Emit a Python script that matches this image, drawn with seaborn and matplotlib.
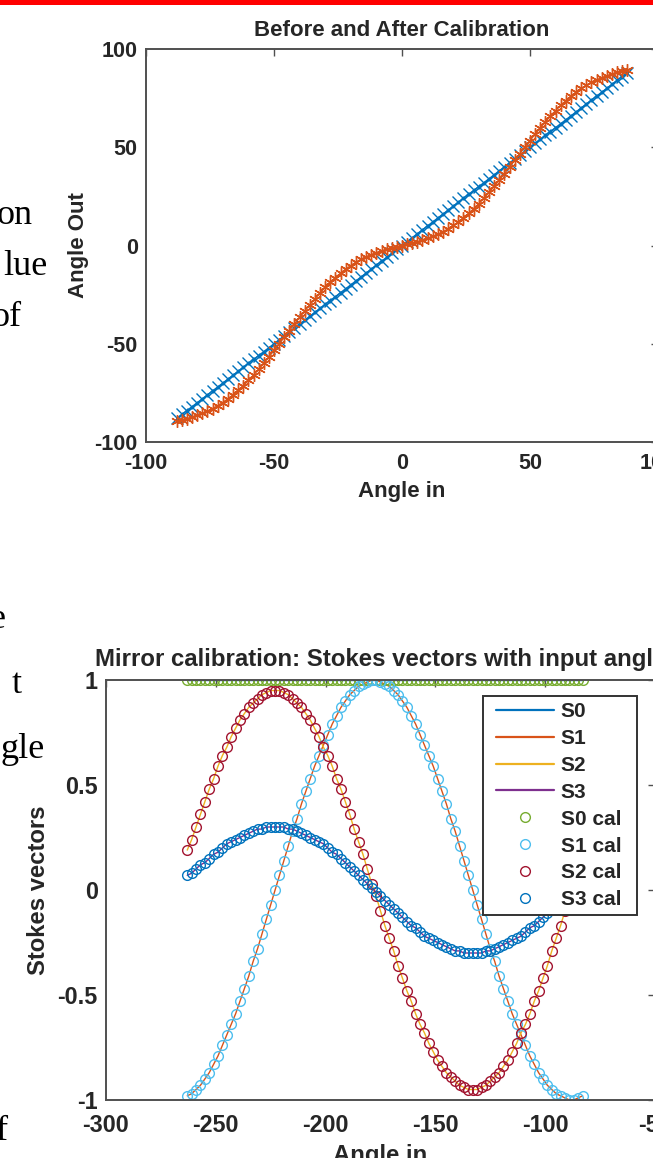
import matplotlib
matplotlib.use("Agg")
import matplotlib.pyplot as plt
import seaborn as sns
from matplotlib.patches import Rectangle

# ---- data ----
# top panel: angle in vs angle out, step 2 deg
angle_in_top = [-88, -86, -84, -82, -80, -78, -76, -74, -72, -70, -68, -66, -64, -62, -60,
                -58, -56, -54, -52, -50, -48, -46, -44, -42, -40, -38, -36, -34, -32, -30,
                -28, -26, -24, -22, -20, -18, -16, -14, -12, -10, -8, -6, -4, -2, 0,
                2, 4, 6, 8, 10, 12, 14, 16, 18, 20, 22, 24, 26, 28, 30,
                32, 34, 36, 38, 40, 42, 44, 46, 48, 50, 52, 54, 56, 58, 60,
                62, 64, 66, 68, 70, 72, 74, 76, 78, 80, 82, 84, 86, 88]
angle_out_after = [-88, -86, -84, -82, -80, -78, -76, -74, -72, -70, -68, -66, -64, -62, -60,
                   -58, -56, -54, -52, -50, -48, -46, -44, -42, -40, -38, -36, -34, -32, -30,
                   -28, -26, -24, -22, -20, -18, -16, -14, -12, -10, -8, -6, -4, -2, 0,
                   2, 4, 6, 8, 10, 12, 14, 16, 18, 20, 22, 24, 26, 28, 30,
                   32, 34, 36, 38, 40, 42, 44, 46, 48, 50, 52, 54, 56, 58, 60,
                   62, 64, 66, 68, 70, 72, 74, 76, 78, 80, 82, 84, 86, 88]
angle_out_before = [-89.4, -88.8, -88.1, -87.3, -86.4, -85.4, -84.3, -83.0, -81.5, -79.9,
                    -78.0, -76.0, -73.7, -71.3, -68.7, -65.9, -63.0, -59.9, -56.7, -53.4,
                    -50.1, -46.7, -43.3, -39.9, -36.6, -33.3, -30.1, -27.1, -24.1, -21.3,
                    -18.7, -16.3, -14.1, -12.0, -10.2, -8.5, -7.0, -5.7, -4.6, -3.6,
                    -2.7, -1.9, -1.2, -0.6, 0.0, 0.6, 1.2, 1.9, 2.7, 3.6,
                    4.6, 5.7, 7.0, 8.5, 10.2, 12.0, 14.1, 16.3, 18.7, 21.3,
                    24.1, 27.1, 30.1, 33.3, 36.6, 39.9, 43.3, 46.7, 50.1, 53.4,
                    56.7, 59.9, 63.0, 65.9, 68.7, 71.3, 73.7, 76.0, 78.0, 79.9,
                    81.5, 83.0, 84.3, 85.4, 86.4, 87.3, 88.1, 88.8, 89.4]

# bottom panel: Stokes vectors vs input angle
angle_in_bot = [-263, -261, -259, -257, -255, -253, -251, -249, -247, -245, -243, -241, -239,
                -237, -235, -233, -231, -229, -227, -225, -223, -221, -219, -217, -215, -213,
                -211, -209, -207, -205, -203, -201, -199, -197, -195, -193, -191, -189, -187,
                -185, -183, -181, -179, -177, -175, -173, -171, -169, -167, -165, -163, -161,
                -159, -157, -155, -153, -151, -149, -147, -145, -143, -141, -139, -137, -135,
                -133, -131, -129, -127, -125, -123, -121, -119, -117, -115, -113, -111, -109,
                -107, -105, -103, -101, -99, -97, -95, -93, -91, -89, -87, -85, -83]
s0 = [1.0, 1.0, 1.0, 1.0, 1.0, 1.0, 1.0, 1.0, 1.0, 1.0, 1.0, 1.0, 1.0,
      1.0, 1.0, 1.0, 1.0, 1.0, 1.0, 1.0, 1.0, 1.0, 1.0, 1.0, 1.0, 1.0,
      1.0, 1.0, 1.0, 1.0, 1.0, 1.0, 1.0, 1.0, 1.0, 1.0, 1.0, 1.0, 1.0,
      1.0, 1.0, 1.0, 1.0, 1.0, 1.0, 1.0, 1.0, 1.0, 1.0, 1.0, 1.0, 1.0,
      1.0, 1.0, 1.0, 1.0, 1.0, 1.0, 1.0, 1.0, 1.0, 1.0, 1.0, 1.0, 1.0,
      1.0, 1.0, 1.0, 1.0, 1.0, 1.0, 1.0, 1.0, 1.0, 1.0, 1.0, 1.0, 1.0,
      1.0, 1.0, 1.0, 1.0, 1.0, 1.0, 1.0, 1.0, 1.0, 1.0, 1.0, 1.0, 1.0]
s1 = [-0.98, -0.97, -0.95, -0.93, -0.90, -0.87, -0.83, -0.79, -0.74, -0.69,
      -0.64, -0.59, -0.53, -0.47, -0.41, -0.34, -0.28, -0.21, -0.14, -0.07,
      0.00, 0.07, 0.14, 0.21, 0.28, 0.34, 0.41, 0.47, 0.53, 0.59,
      0.64, 0.69, 0.74, 0.79, 0.83, 0.87, 0.90, 0.93, 0.95, 0.97,
      0.98, 0.99, 1.00, 1.00, 0.99, 0.98, 0.97, 0.95, 0.93, 0.90,
      0.87, 0.83, 0.79, 0.74, 0.69, 0.64, 0.59, 0.53, 0.47, 0.41,
      0.34, 0.28, 0.21, 0.14, 0.07, 0.00, -0.07, -0.14, -0.21, -0.28,
      -0.34, -0.41, -0.47, -0.53, -0.59, -0.64, -0.69, -0.74, -0.79, -0.83,
      -0.87, -0.90, -0.93, -0.95, -0.97, -0.98, -0.99, -1.00, -1.00, -0.99, -0.98]
s2 = [0.19, 0.24, 0.30, 0.36, 0.42, 0.48, 0.53, 0.59, 0.64, 0.68,
      0.73, 0.77, 0.81, 0.84, 0.87, 0.89, 0.91, 0.93, 0.94, 0.95,
      0.95, 0.95, 0.94, 0.93, 0.91, 0.89, 0.87, 0.84, 0.81, 0.77,
      0.73, 0.68, 0.64, 0.59, 0.53, 0.48, 0.42, 0.36, 0.29, 0.23,
      0.17, 0.10, 0.03, -0.03, -0.10, -0.17, -0.23, -0.29, -0.36, -0.42,
      -0.48, -0.53, -0.59, -0.64, -0.68, -0.73, -0.77, -0.81, -0.84, -0.87,
      -0.89, -0.91, -0.93, -0.94, -0.95, -0.95, -0.95, -0.94, -0.93, -0.91,
      -0.89, -0.87, -0.84, -0.81, -0.77, -0.73, -0.68, -0.64, -0.59, -0.53,
      -0.48, -0.42, -0.36, -0.29, -0.23, -0.17, -0.10, -0.03, 0.03, 0.10, 0.17]
s3 = [0.07, 0.08, 0.10, 0.12, 0.13, 0.15, 0.17, 0.18, 0.20, 0.22,
      0.23, 0.24, 0.25, 0.26, 0.27, 0.28, 0.29, 0.29, 0.30, 0.30,
      0.30, 0.30, 0.30, 0.29, 0.29, 0.28, 0.27, 0.26, 0.25, 0.24,
      0.23, 0.22, 0.20, 0.18, 0.17, 0.15, 0.13, 0.11, 0.09, 0.07,
      0.05, 0.03, 0.01, -0.01, -0.03, -0.05, -0.07, -0.09, -0.11, -0.13,
      -0.15, -0.17, -0.18, -0.20, -0.22, -0.23, -0.24, -0.25, -0.26, -0.27,
      -0.28, -0.29, -0.29, -0.30, -0.30, -0.30, -0.30, -0.30, -0.29, -0.29,
      -0.28, -0.27, -0.26, -0.25, -0.24, -0.23, -0.22, -0.20, -0.18, -0.17,
      -0.15, -0.13, -0.11, -0.09, -0.07, -0.05, -0.03, -0.01, 0.01, 0.03, 0.05]

line_names = ["S0", "S1", "S2", "S3"]
line_colors = ["#0072BD", "#D95319", "#EDB120", "#7E2F8E"]
cal_names = ["S0 cal", "S1 cal", "S2 cal", "S3 cal"]
cal_colors = ["#77AC30", "#4DBEEE", "#A2142F", "#0072BD"]

# left-hand slide text that is cut off by the crop
side_text = [("on", 33, 224), ("lue", 47, 275), ("of", 22, 326),
             ("e", 6, 628), ("t", 22, 693), ("gle", 45, 758), ("f", 8, 1140)]

# ---- style ----
sns.set_style("white")
plt.rcParams["font.family"] = ["Liberation Sans", "DejaVu Sans"]
plt.rcParams["font.weight"] = "bold"
plt.rcParams["axes.unicode_minus"] = False

W, H = 653, 1158
fig = plt.figure(figsize=(W / 100, H / 100), dpi=100)
fig.add_artist(Rectangle((0, 1 - 4.5 / H), 1, 4.5 / H, transform=fig.transFigure,
                         color="#ff0000", lw=0, zorder=10))

for s, xr, yb in side_text:
    fig.text(xr / W, 1 - yb / H, s, ha="right", va="baseline", fontsize=26,
             family=["Liberation Serif", "DejaVu Serif"], weight="normal", color="black")


def style_axes(ax, size):
    for sp in ax.spines.values():
        sp.set_visible(True)
        sp.set_color("#505050")
        sp.set_linewidth(1.4)
    ax.tick_params(direction="in", length=5, width=1, top=True, right=True,
                   labelsize=size, color="#505050", labelcolor="#262626")


# ---- top panel ----
ax1 = fig.add_axes([146 / W, 1 - 442 / H, 512 / W, 393 / H])
sns.lineplot(x=angle_in_top, y=angle_out_after, ax=ax1, color="#0072BD", lw=1,
             marker="x", ms=8, mew=1, mec="#0072BD", sort=False, estimator=None)
sns.lineplot(x=angle_in_top, y=angle_out_before, ax=ax1, color="#D95319", lw=1,
             marker=(6, 2, 0), ms=9, mew=1, mec="#D95319", sort=False, estimator=None)
ax1.set_xlim(-100, 100)
ax1.set_ylim(-100, 100)
ax1.set_xticks([-100, -50, 0, 50, 100])
ax1.set_yticks([-100, -50, 0, 50, 100])
style_axes(ax1, 15.5)
ax1.tick_params(axis="x", pad=8)
ax1.tick_params(axis="y", pad=6)
ax1.set_title("Before and After Calibration", fontsize=16, weight="bold", pad=9)
ax1.set_xlabel("Angle in", fontsize=16, weight="bold", labelpad=5)
ax1.set_ylabel("Angle Out", fontsize=16, weight="bold", labelpad=4)

# ---- bottom panel ----
ax2 = fig.add_axes([106 / W, 1 - 1100 / H, 549 / W, 420 / H])
for name, vals, c in zip(line_names, [s0, s1, s2, s3], line_colors):
    sns.lineplot(x=angle_in_bot, y=vals, ax=ax2, color=c, lw=1, label=name,
                 sort=False, estimator=None)
for name, vals, c in zip(cal_names, [s0, s1, s2, s3], cal_colors):
    sns.lineplot(x=angle_in_bot, y=vals, ax=ax2, color=c, ls="", marker="o", ms=7,
                 mfc="none", mec=c, mew=1, label=name, sort=False, estimator=None)
ax2.set_xlim(-300, -50)
ax2.set_ylim(-1, 1)
ax2.set_xticks([-300, -250, -200, -150, -100, -50])
ax2.set_yticks([-1, -0.5, 0, 0.5, 1])
ax2.set_yticklabels(["-1", "-0.5", "0", "0.5", "1"])
style_axes(ax2, 16.8)
ax2.tick_params(axis="x", pad=10)
ax2.tick_params(axis="y", pad=6)
ax2.set_title("Mirror calibration: Stokes vectors with input angle", fontsize=17.3,
              weight="bold", pad=10)
ax2.set_xlabel("Angle in", fontsize=17.2, weight="bold", labelpad=5)
ax2.set_ylabel("Stokes vectors", fontsize=17.2, weight="bold", labelpad=5)

# legend: white box drawn separately so the padding matches the MATLAB one
ax2.add_patch(Rectangle(((483 - 106) / 549, (1100 - 915) / 420), 154 / 549, 219 / 420,
                        transform=ax2.transAxes, facecolor="white", edgecolor="#333333",
                        lw=1.4, zorder=4))
handles, labels = ax2.get_legend_handles_labels()
for h in handles[:4]:
    h.set_linewidth(1.6)
leg = ax2.legend(handles, labels, loc="upper left",
                 bbox_to_anchor=((496 - 106) / 549, (1100 - 702) / 420),
                 frameon=False, prop={"size": 15, "weight": "bold"}, handlelength=2.8,
                 handletextpad=0.3, labelspacing=0.38, borderpad=0, borderaxespad=0)
leg.set_zorder(5)
for h in handles[:4]:
    h.set_linewidth(1)

fig.savefig("out.png", dpi=100)
